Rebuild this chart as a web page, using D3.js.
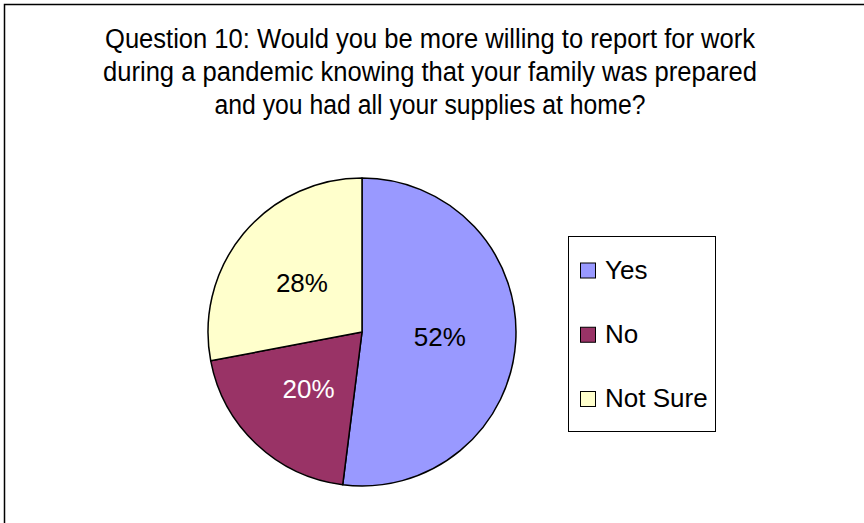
<!DOCTYPE html>
<html>
<head>
<meta charset="utf-8">
<script src="https://cdn.jsdelivr.net/npm/d3@7"></script>
<style>
  html, body { margin: 0; padding: 0; background: #fff; }
  svg text { font-family: "Liberation Sans", Arial, Helvetica, sans-serif; }
</style>
</head>
<body>
<div id="chart"></div>
<script>
(function () {

    var categories = ["Yes", "No", "Not Sure"],
        values = [52, 20, 28],
        colors = ["#9999FF", "#993366", "#FFFFCC"],
        labelColors = ["#000", "#fff", "#000"],
        titleLines = [
            "Question 10: Would you be more willing to report for work",
            "during a pandemic knowing that your family was prepared",
            "and you had all your supplies at home?"
        ],
        titleWidths = [650, 654, 431];

    var width = 864,
        height = 523,
        cx = 362, cy = 332,
        radius = 154;

    var svg = d3.select("#chart").append("svg")
        .attr("width", width)
        .attr("height", height);

    svg.append("rect")
        .attr("width", width).attr("height", height)
        .attr("fill", "#fff");

    // outer chart border (right and bottom fall outside the picture)
    svg.append("rect")
        .attr("x", 4.5).attr("y", 4.5)
        .attr("width", width + 20).attr("height", height + 20)
        .attr("fill", "none")
        .attr("stroke", "#000")
        .attr("stroke-width", 1.5);

    // title
    svg.append("g")
        .selectAll("text")
        .data(titleLines)
        .enter().append("text")
        .attr("x", 430)
        .attr("y", function (d, i) { return 48 + i * 33; })
        .attr("text-anchor", "middle")
        .attr("font-size", 27)
        .attr("textLength", function (d, i) { return titleWidths[i]; })
        .attr("lengthAdjust", "spacingAndGlyphs")
        .attr("fill", "#000")
        .text(function (d) { return d; });

    var pie = d3.pie().sort(null).value(function (d) { return d; });
    var arcs = pie(values);
    var arc = d3.arc().innerRadius(0).outerRadius(radius);
    var labelArc = d3.arc().innerRadius(78).outerRadius(78);

    var g = svg.append("g").attr("transform", "translate(" + cx + "," + cy + ")");

    g.selectAll("path")
        .data(arcs)
        .enter().append("path")
        .attr("d", arc)
        .attr("fill", function (d, i) { return colors[i]; })
        .attr("stroke", "#000")
        .attr("stroke-width", 1.5)
        .attr("stroke-linejoin", "round");

    g.selectAll("text")
        .data(arcs)
        .enter().append("text")
        .attr("transform", function (d) { return "translate(" + labelArc.centroid(d) + ")"; })
        .attr("dy", "0.36em")
        .attr("text-anchor", "middle")
        .attr("font-size", 26)
        .attr("fill", function (d, i) { return labelColors[i]; })
        .text(function (d) { return d.data + "%"; });

    // legend
    var legend = svg.append("g");
    legend.append("rect")
        .attr("x", 568.5).attr("y", 236.5)
        .attr("width", 147).attr("height", 195)
        .attr("fill", "#fff")
        .attr("stroke", "#000")
        .attr("stroke-width", 1);

    var y = d3.scalePoint().domain(categories).range([270.5, 399]);

    var item = legend.selectAll("g.item")
        .data(categories)
        .enter().append("g")
        .attr("class", "item")
        .attr("transform", function (d) { return "translate(0," + y(d) + ")"; });

    item.append("rect")
        .attr("x", 580.5).attr("y", -7.5)
        .attr("width", 15).attr("height", 15)
        .attr("fill", function (d, i) { return colors[i]; })
        .attr("stroke", "#000")
        .attr("stroke-width", 1);

    item.append("text")
        .attr("x", 605)
        .attr("y", 8)
        .attr("font-size", 26)
        .attr("fill", "#000")
        .text(function (d) { return d; });

}());
</script>
</body>
</html>
